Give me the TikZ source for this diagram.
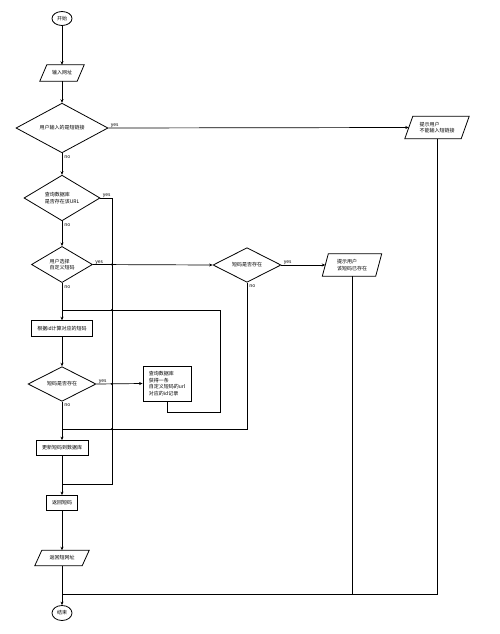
\documentclass[tikz,border=0pt]{standalone}
\usepackage{fontspec}
\newfontfamily\cjk{Noto Sans CJK SC}
\usetikzlibrary{shapes.geometric,arrows.meta}
\begin{document}
\begin{tikzpicture}[x=1pt,y=-1pt,
 every node/.style={font=\cjk\fontsize{5}{6.5}\selectfont, inner sep=0pt},
 base/.style={draw, line width=0.8pt},
 term/.style={base, ellipse, minimum width=20pt, minimum height=14pt},
 proc/.style={base, rectangle},
 dec/.style={base, diamond, align=left},
 para/.style={align=left, append after command={\pgfextra{\draw[line width=0.8pt] ([xshift=#1]\tikzlastnode.north west) -- ([xshift=#1]\tikzlastnode.north east) -- ([xshift=-#1]\tikzlastnode.south east) -- ([xshift=-#1]\tikzlastnode.south west) -- cycle;}}},
 flow/.style={line width=0.7pt, -{Stealth[length=3.5pt,width=3pt]}},
 link/.style={line width=0.7pt},
 lbl/.style={font=\cjk\fontsize{5}{6}\selectfont}
]
\useasboundingbox (0,0) rectangle (500,634);

\node[term] (start) at (62,18.5) {开始};
\node[para=3.5pt, minimum width=37pt, minimum height=16pt] (in) at (62,73) {输入网址};
\node[dec, minimum width=92pt, minimum height=46pt] (d1) at (62,128) {用户输入的是短链接};
\node[para=4pt, minimum width=56pt, minimum height=22pt] (p1) at (437,127.5) {提示用户\\不能输入短链接};
\node[dec, minimum width=76pt, minimum height=38pt] (d2) at (62,198) {查询数据库\\是否存在该URL};
\node[dec, minimum width=61pt, minimum height=33pt] (d3) at (62,264.5) {用户选择\\自定义短码};
\node[dec, minimum width=68pt, minimum height=34pt] (d4) at (247,265) {短码是否存在};
\node[para=3pt, minimum width=53pt, minimum height=22pt] (p2) at (352,265) {提示用户\\该短码已存在};
\node[proc, minimum width=61pt, minimum height=16pt] (calc) at (62,328.7) {根据id计算对应的短码};
\node[dec, minimum width=68pt, minimum height=34pt] (d5) at (62,384) {短码是否存在};
\node[proc, align=left, minimum width=48pt, minimum height=35pt] (qbox) at (167,383.5) {查询数据库\\获得一条\\自定义短码的url\\对应的id记录};
\node[proc, minimum width=52pt, minimum height=15pt] (upd) at (62,448) {更新短码到数据库};
\node[proc, minimum width=31pt, minimum height=15pt] (ret1) at (62,503) {返回短码};
\node[para=3.5pt, minimum width=47pt, minimum height=15pt] (ret2) at (62,558) {返回短网址};
\node[term, minimum height=15pt] (end) at (62,613) {结束};

\coordinate (jA) at (62,310);
\coordinate (jB) at (62,429);
\coordinate (jC) at (62,484);
\coordinate (jD) at (62,594);
\coordinate (c2) at (112,484);
\coordinate (lp) at (220,412);

\draw[flow] (start) -- (in);
\draw[flow] (in) -- (d1);
\draw[flow] (d1.east) -- node[lbl, pos=0, anchor=south west, xshift=2pt, yshift=-0.5pt] (y1) {yes} (p1.west);
\draw[flow] (d1.south) -- node[lbl, pos=0, anchor=north west, xshift=2pt, yshift=-2pt] (n1) {no} (d2.north);
\draw[link] (d2.east) node[lbl, anchor=south west, xshift=2pt, yshift=-0.5pt] (y2) {yes} -| (c2) -- (jC);
\draw[flow] (d2.south) -- node[lbl, pos=0, anchor=north west, xshift=2pt, yshift=-2pt] (n2) {no} (d3.north);
\draw[flow] (d3.east) -- node[lbl, pos=0, anchor=south west, xshift=2pt, yshift=-0.5pt] (y3) {yes} (d4.west);
\draw[flow] (d3.south) -- node[lbl, pos=0, anchor=north west, xshift=2pt, yshift=-2pt] (n3) {no} (calc.north);
\draw[flow] (d4.east) -- node[lbl, pos=0, anchor=south west, xshift=2pt, yshift=-0.5pt] (y4) {yes} (p2.west);
\draw[link] (d4.south) node[lbl, anchor=north west, xshift=2pt, yshift=-2pt] (n4) {no} |- (jB);
\draw[flow] (calc) -- (d5);
\draw[flow] (d5.east) -- node[lbl, pos=0, anchor=south west, xshift=2pt, yshift=-0.5pt] (y5) {yes} (qbox.west);
\draw[flow] (d5.south) -- node[lbl, pos=0, anchor=north west, xshift=2pt, yshift=-2pt] (n5) {no} (upd.north);
\draw[link] (qbox.south) |- (lp) |- (jA);
\draw[flow] (upd) -- (ret1);
\draw[flow] (ret1) -- (ret2);
\draw[flow] (ret2) -- (end);
\draw[link] (p1.south) |- (jD);
\draw[link] (p2.south) -- (p2.south |- jD);

\foreach \yy in {264.5,310,384,429} \fill (112,\yy) circle (1.1pt);
\end{tikzpicture}
\end{document}
